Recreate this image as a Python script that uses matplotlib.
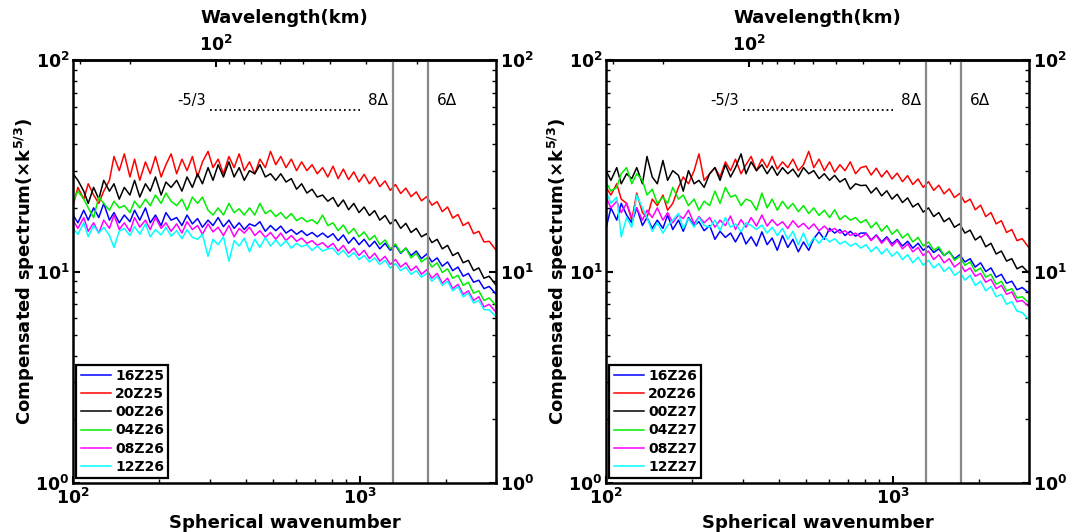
import matplotlib
matplotlib.use('Agg')
import numpy as np
import matplotlib.pyplot as plt
from matplotlib.ticker import LogLocator, NullFormatter, FixedLocator

plt.rcParams['font.family'] = ['DejaVu Sans']
plt.rcParams['font.weight'] = 'bold'
plt.rcParams['mathtext.default'] = 'bf'

# spherical wavenumber samples
k = [100, 104, 109, 113, 118, 123, 128, 134, 139, 145,
     151, 158, 164, 171, 179, 186, 194, 203, 211, 220,
     230, 240, 250, 261, 272, 283, 296, 308, 321, 335,
     350, 365, 380, 396, 413, 431, 449, 469, 489, 510,
     531, 554, 578, 603, 628, 655, 683, 712, 743, 775,
     808, 842, 878, 916, 955, 996, 1038, 1083, 1129, 1177,
     1228, 1280, 1335, 1392, 1451, 1513, 1578, 1645, 1716, 1789,
     1866, 1945, 2029, 2115, 2206, 2300, 2398, 2501, 2608, 2719, 2835, 3000]

# ---- left panel ----
l_16Z25 = [18.5, 17, 19.5, 17.5, 20, 18, 21, 17.5, 19, 17,
           18.5, 17.2, 19.5, 17.5, 20, 17, 18.5, 16.5, 19, 17.5,
           18, 16.5, 18.5, 16.8, 17.8, 16.2, 17.5, 16.5, 18, 16.3,
           17.5, 16, 17, 15.8, 16.8, 16.4, 17.2, 15.5, 16.5, 15.6,
           16.4, 15.2, 15.8, 15, 15.6, 14.8, 15.3, 14.6, 15.2, 14.5,
           15.1, 14.0, 14.9, 13.6, 14.5, 13.4, 14.2, 13.1, 13.9, 12.8,
           13.6, 12.6, 13.3, 12.2, 12.9, 11.9, 12.5, 11.5, 12.1, 11.1,
           11.6, 10.6, 11.1, 10.1, 10.5, 9.5, 9.8, 8.9, 9.1, 8.3, 8.5, 7.8]
l_20Z25 = [20.5, 25, 22, 26, 23, 21, 24, 27, 35, 30,
           36, 28, 34, 27, 33, 29, 35, 28, 32, 36,
           29, 34, 30, 35, 28, 33, 37, 31, 34, 29,
           35, 31, 36, 30, 33, 29, 34, 31, 37, 32,
           35, 31, 34, 30, 33, 30, 32, 29, 31, 28,
           31.5, 27.5, 30.5, 27.2, 29.6, 26.5, 28.8, 26, 28, 25.2,
           26.8, 24.2, 25.8, 23.4, 24.8, 22.6, 23.8, 21.6, 22.6, 20.6,
           21.4, 19.2, 20.2, 17.9, 18.6, 16.5, 17.1, 15.1, 15.5, 13.8, 13.9, 12.6]
l_00Z26 = [29, 27, 24, 21, 25, 22, 27, 24, 26, 22,
           25, 23, 27, 22.5, 26, 24, 28, 23, 26.5, 25,
           27, 24, 28, 25, 29, 26, 31, 27, 32, 28,
           33, 28, 31, 27, 30, 29, 32, 28, 29, 27,
           29, 26.5, 27.5, 24.5, 26, 23.5, 24.5, 22.5, 23, 21.5,
           22.4, 20.3, 21.8, 19.6, 21.0, 19.0, 20.2, 18.4, 19.4, 17.5,
           18.4, 16.8, 17.6, 16.0, 16.9, 15.3, 16.0, 14.6, 15.1, 13.7,
           14.2, 12.8, 13.3, 11.9, 12.3, 11.0, 11.3, 10.1, 10.4, 9.3, 9.5, 8.6]
l_04Z26 = [21.5, 24, 22, 20, 18, 22.5, 21, 19.5, 21.5, 20,
           20.5, 19, 21.5, 20, 22, 20.5, 23, 21, 23.5, 21.5,
           20.5, 22, 19.5, 22.5, 21, 22.5, 19.5, 18.5, 20, 18.5,
           21, 19, 19.8, 18.5, 20, 18.5, 21, 18.8, 19.5, 18.2,
           19, 17.8, 18.8, 17.4, 18, 17.2, 17.6, 16.8, 18.5, 16.5,
           17.0, 15.6, 16.6, 15.1, 16.0, 14.6, 15.4, 14.1, 14.8, 13.4,
           14.1, 12.8, 13.5, 12.3, 12.9, 11.6, 12.2, 11.1, 11.6, 10.5,
           11.0, 9.9, 10.3, 9.3, 9.6, 8.6, 8.9, 7.9, 8.1, 7.3, 7.5, 6.9]
l_08Z26 = [17.5, 16, 18, 15.5, 17, 15.2, 17.5, 16, 18.5, 15.8,
           17, 15.5, 18, 16.2, 17.5, 15.8, 18, 16, 17, 15.5,
           16.8, 15.2, 17.2, 15.8, 16.5, 15, 16.8, 15.4, 16.2, 14.8,
           16.5, 14.6, 16, 15.2, 16.2, 14.8, 15.6, 14.5, 15.3, 14.2,
           15.2, 14, 14.8, 13.9, 14.4, 13.6, 14, 13.3, 13.7, 13,
           13.6, 12.5, 13.3, 12.2, 12.9, 11.9, 12.6, 11.5, 12.2, 11.2,
           11.8, 10.8, 11.4, 10.5, 11.0, 10.1, 10.6, 9.7, 10.2, 9.3,
           9.8, 8.8, 9.3, 8.3, 8.7, 7.8, 8.1, 7.3, 7.6, 6.8, 7.0, 6.4]
l_12Z26 = [16, 15, 17, 14.6, 16.5, 15.2, 16.2, 14.8, 13, 15.5,
           16, 14.8, 16.3, 15, 16.8, 14.6, 15.8, 14.9, 16.2, 14.7,
           15.6, 14.3, 15.8, 14.5, 14.2, 15, 11.8, 14.2, 13.4, 14.6,
           11.2, 14, 13.2, 14.4, 12.4, 14.2, 13, 14.5, 13.2, 14.1,
           13.2, 14, 12.9, 13.6, 13.1, 13.4, 12.6, 13.2, 12.5, 12.8,
           12.9, 12.0, 12.6, 11.7, 12.3, 11.4, 11.9, 11.1, 11.6, 10.8,
           11.3, 10.4, 10.9, 10.1, 10.5, 9.7, 10.1, 9.4, 9.8, 9.0,
           9.5, 8.6, 9.0, 8.1, 8.5, 7.6, 7.9, 7.1, 7.3, 6.6, 6.6, 6.1]

# ---- right panel ----
r_16Z26 = [16, 20, 17.5, 21, 18.5, 17, 20, 16.5, 18, 16,
           17.5, 16, 18.5, 15.8, 17.5, 15.5, 18, 16.5, 17.2, 15.6,
           16.5, 14.2, 15.5, 14.5, 15.2, 13.8, 15.4, 13.5, 14.6, 13.2,
           15.4, 13.4, 14.4, 12.6, 14.8, 13, 14.2, 12.4, 13.8, 12.6,
           14.3, 15.4, 14.2, 16, 15.2, 15.8, 14.8, 15.5, 14.7, 15.2,
           15.2, 14.1, 14.9, 13.8, 14.6, 13.5, 14.2, 13.2, 13.9, 12.9,
           13.6, 12.6, 13.2, 12.3, 12.8, 11.9, 12.4, 11.5, 12.0, 11.1,
           11.5, 10.5, 11.0, 10.0, 10.4, 9.4, 9.7, 8.8, 9.0, 8.2, 8.4, 7.9]
r_20Z26 = [25, 23, 26, 22, 21, 17.5, 23.5, 19, 18, 22,
           20.5, 23, 19.5, 21, 25, 28, 26, 30, 36, 27,
           29, 31, 28, 33, 30, 34, 29, 32, 35, 30,
           34, 31, 35, 30.5, 33, 31, 34, 30, 32, 37,
           31, 34, 30, 33, 29.5, 32, 30, 33, 29, 31,
           31.5, 28.6, 30.8, 28.0, 30.0, 27.4, 29.2, 26.6, 28.4, 25.8,
           27.4, 25.0, 26.6, 24.2, 25.6, 23.3, 24.6, 22.4, 23.4, 21.2,
           22.0, 19.6, 20.6, 18.2, 19.0, 16.8, 17.4, 15.3, 15.8, 14.0, 14.3, 12.9]
r_00Z27 = [30, 27, 31, 26, 29, 27.5, 31, 26, 35, 28,
           26, 33.5, 27, 30, 28.5, 24, 30, 26, 27, 25,
           29, 31, 27, 32, 28, 31, 36, 29, 33, 30,
           32, 29, 31.5, 28.5, 31, 29, 30.5, 28, 31, 29,
           30, 27.5, 29, 27, 28.5, 26.5, 27.5, 24.5, 26, 25.5,
           25.6, 23.5, 24.9, 22.8, 24.1, 22.0, 23.2, 21.2, 22.3, 20.2,
           21.0, 19.1, 20.0, 18.2, 19.0, 17.2, 17.9, 16.2, 16.8, 15.2,
           15.7, 14.1, 14.7, 13.1, 13.6, 12.1, 12.5, 11.2, 11.5, 10.3, 10.6, 9.8]
r_04Z27 = [26.5, 24, 25, 29, 31, 26, 29, 27, 23, 24.5,
           21, 22.5, 21, 25, 22, 23, 20.5, 22, 19.5, 21.5,
           20.5, 24, 21, 25, 22.5, 23, 20.5, 22, 21.5, 19.5,
           23.5, 20, 22, 19.5, 21.5, 19.8, 21, 19.2, 20.5, 18.8,
           20, 18.4, 19.5, 18, 19.6, 17.6, 18.4, 17.5, 18, 17,
           17.6, 16.1, 17.1, 15.5, 16.5, 15.0, 15.8, 14.4, 15.1, 13.8,
           14.5, 13.2, 13.8, 12.6, 13.1, 11.9, 12.5, 11.3, 11.8, 10.7,
           11.1, 10.0, 10.4, 9.4, 9.7, 8.7, 9.0, 8.1, 8.3, 7.5, 7.6, 7.1]
r_08Z27 = [22.5, 20, 21.5, 19, 21, 18, 20, 17.5, 19.5, 18,
           20, 17.5, 19, 17, 18.5, 17.8, 19.5, 16.8, 18.2, 17,
           18, 16.2, 17.5, 16.5, 18.3, 15.8, 17.6, 16.2, 18, 16.4,
           18.5, 16.4, 17.6, 16.5, 17.2, 16, 17.4, 16.2, 16.9, 15.9,
           16.8, 15.6, 16.4, 15.5, 16, 15.2, 15.6, 14.8, 15.2, 14.5,
           15.1, 14.0, 14.8, 13.6, 14.4, 13.2, 14.0, 12.8, 13.5, 12.4,
           13.0, 11.9, 12.5, 11.4, 12.0, 11.0, 11.5, 10.5, 11.0, 10.0,
           10.4, 9.5, 9.8, 8.9, 9.2, 8.3, 8.6, 7.8, 8.0, 7.2, 7.3, 6.8]
r_12Z27 = [24, 21, 22.5, 14.6, 18, 16.2, 23, 20, 18, 15.5,
           17, 15.2, 16.5, 17.5, 18.8, 16, 17.8, 16.2, 18, 16.5,
           16.2, 17.5, 15.6, 18, 16.2, 16.8, 15.4, 17, 16.5, 15.8,
           16.6, 15.2, 16.2, 14.8, 16, 14.2, 15.5, 13.4, 15.2, 13.2,
           14.5, 13.6, 14.6, 13.8, 14.3, 13.5, 13.9, 13.2, 13.6, 12.9,
           13.4, 12.4, 13.1, 12.1, 12.8, 11.8, 12.4, 11.4, 12.0, 11.0,
           11.7, 10.7, 11.3, 10.4, 10.9, 10.0, 10.5, 9.6, 10.0, 9.1,
           9.6, 8.6, 9.0, 8.1, 8.5, 7.6, 7.8, 7.0, 7.2, 6.5, 6.4, 5.9]

labels_left = ['16Z25', '20Z25', '00Z26', '04Z26', '08Z26', '12Z26']
labels_right = ['16Z26', '20Z26', '00Z27', '04Z27', '08Z27', '12Z27']
colors = ['#0000ff', '#ff0000', '#000000', '#00ee00', '#ff00ff', '#00ffff']

k_8dx = 1305
k_6dx = 1740
ref_k = [300, 1000]
ref_y = [58, 58]
C = 31623.0  # wavelength(km) = C / wavenumber


def k2wl(x):
    return C / np.maximum(x, 1e-9)


fig = plt.figure(figsize=(10.66, 5.32), dpi=100)


def panel(rect, series, labels):
    ax = fig.add_axes(rect)
    for y, lab, c in zip(series, labels, colors):
        ax.plot(k, y, color=c, lw=1.1, label=lab)
    ax.set_xscale('log')
    ax.set_yscale('log')
    ax.set_xlim(100, 3000)
    ax.set_ylim(1, 100)
    ax.axvline(k_8dx, color='#888888', lw=1.6)
    ax.axvline(k_6dx, color='#888888', lw=1.6)
    ax.plot(ref_k, ref_y, ':', color='k', lw=1.3)
    ax.text(292, 61.5, '-5/3', ha='right', va='baseline', fontsize=10.5, fontweight='normal')
    ax.text(1255, 61.5, '8Δ', ha='right', va='baseline', fontsize=11, fontweight='normal')
    ax.text(1860, 61.5, '6Δ', ha='left', va='baseline', fontsize=11, fontweight='normal')

    for s in ax.spines.values():
        s.set_linewidth(1.8)
    ax.tick_params(which='both', direction='in', top=False, right=True,
                   labelright=True, labelsize=12.5)
    ax.tick_params(which='major', length=5, width=1.5)
    ax.tick_params(which='minor', length=3, width=1.0)
    ax.tick_params(axis='y', pad=2.5)
    ax.yaxis.set_minor_formatter(NullFormatter())
    ax.xaxis.set_minor_formatter(NullFormatter())
    ax.set_xlabel('Spherical wavenumber', fontsize=13, fontweight='bold', labelpad=4)
    ax.set_ylabel('Compensated spectrum(×k$^{5/3}$)', fontsize=13, fontweight='bold', labelpad=-1)

    sec = ax.secondary_xaxis('top', functions=(k2wl, k2wl))
    sec.xaxis.set_major_locator(FixedLocator([100]))
    sec.xaxis.set_minor_locator(LogLocator(subs=(2, 3, 4, 5, 6, 7, 8, 9)))
    sec.xaxis.set_minor_formatter(NullFormatter())
    sec.tick_params(which='both', direction='in', labelsize=12.5)
    sec.tick_params(which='major', length=5, width=1.5)
    sec.tick_params(which='minor', length=3, width=1.0)
    sec.spines['top'].set_linewidth(1.8)
    sec.set_xlabel('Wavelength(km)', fontsize=13, fontweight='bold', labelpad=9)

    leg = ax.legend(loc='lower left', bbox_to_anchor=(0.008, 0.012), borderaxespad=0,
                    fancybox=False, framealpha=1, edgecolor='k',
                    handlelength=2.2, handletextpad=0.3, labelspacing=0.3,
                    borderpad=0.3, prop={'weight': 'bold', 'size': 10})
    leg.get_frame().set_linewidth(1.6)
    return ax


panel([0.0685, 0.0921, 0.397, 0.795],
      [l_16Z25, l_20Z25, l_00Z26, l_04Z26, l_08Z26, l_12Z26], labels_left)
panel([0.5685, 0.0921, 0.397, 0.795],
      [r_16Z26, r_20Z26, r_00Z27, r_04Z27, r_08Z27, r_12Z27], labels_right)

fig.savefig('out.png', dpi=100)
